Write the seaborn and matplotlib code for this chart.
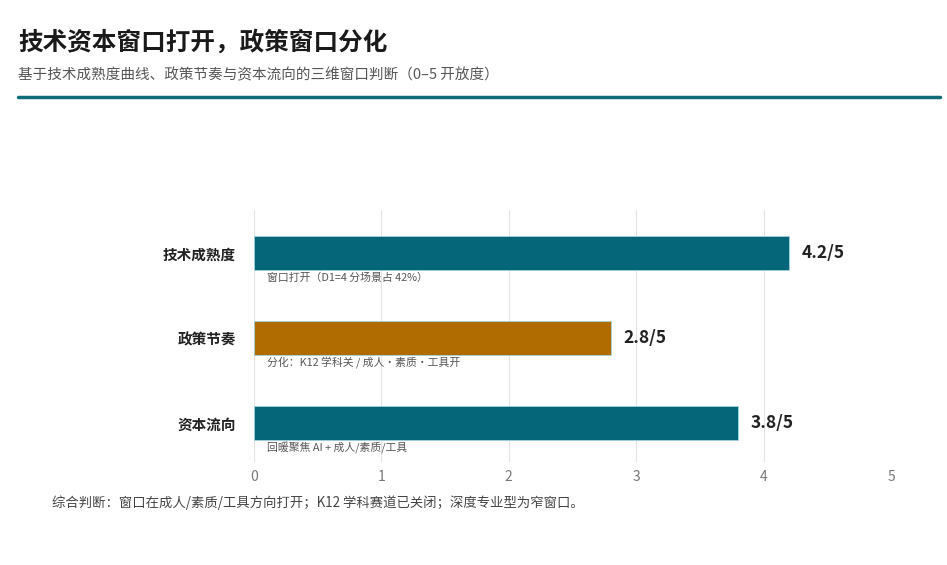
import matplotlib
matplotlib.use("Agg")
import matplotlib.pyplot as plt
import seaborn as sns
import pandas as pd

# 数据
categories = ["技术成熟度", "政策节奏", "资本流向"]
scores = [4.2, 2.8, 3.8]
notes = ["窗口打开（D1=4 分场景占 42%）", "分化：K12 学科关 / 成人・素质・工具开", "回暖聚焦 AI + 成人/素质/工具"]
bar_colors = ["#05667a", "#b06c00", "#05667a"]
x_ticks = [0, 1, 2, 3, 4, 5]

title = "技术资本窗口打开，政策窗口分化"
subtitle = "基于技术成熟度曲线、政策节奏与资本流向的三维窗口判断（0–5 开放度）"
footer = "综合判断：窗口在成人/素质/工具方向打开；K12 学科赛道已关闭；深度专业型为窄窗口。"

df = pd.DataFrame({"维度": categories, "得分": scores})

sns.set_theme(style="white")
plt.rcParams["font.family"] = ["Noto Sans CJK SC", "DejaVu Sans"]

fig = plt.figure(figsize=(9.47, 5.65), dpi=100)
ax = fig.add_axes([254 / 947, 1 - 462 / 565, (891 - 254) / 947, (462 - 210) / 565])

sns.barplot(data=df, x="得分", y="维度", hue="维度", palette=bar_colors, saturation=1,
            legend=False, width=0.4, ax=ax, edgecolor="#9fd3dd", linewidth=0.6)

ax.set_xlim(0, 5)
ax.set_ylim(2.46, -0.51)
ax.set_xticks(x_ticks)
ax.set_xticklabels([str(t) for t in x_ticks], color="#777777", fontsize=10)
ax.tick_params(axis="x", length=0, pad=6)
ax.tick_params(axis="y", length=0, pad=13)
ax.set_yticks(range(len(categories)))
ax.set_yticklabels(categories, fontsize=10.5, fontweight="bold", color="#222222")
ax.set_xlabel("")
ax.set_ylabel("")
ax.grid(axis="x", color="#e3e3e3", linewidth=0.8)
ax.set_axisbelow(True)
for s in ax.spines.values():
    s.set_visible(False)

for i, (v, note) in enumerate(zip(scores, notes)):
    ax.text(v + 0.1, i, f"{v}/5", va="center", ha="left", fontsize=12.5,
            fontweight="bold", color="#222222")
    ax.text(0.1, i + 0.29, note, va="center", ha="left", fontsize=7.8, color="#555555")

fig.text(18 / 947, 1 - 42 / 565, title, fontsize=17.7, fontweight="bold", color="#1a1a1a", va="center")
fig.text(18 / 947, 1 - 75 / 565, subtitle, fontsize=10.5, color="#555555", va="center")
fig.add_artist(plt.Line2D([18 / 947, 940 / 947], [1 - 97 / 565] * 2, color="#0e6b78", linewidth=2.5))
fig.text(52 / 947, 1 - 503 / 565, footer, fontsize=9.6, color="#444444", va="center")

fig.savefig("out.png", dpi=100, facecolor="white")
